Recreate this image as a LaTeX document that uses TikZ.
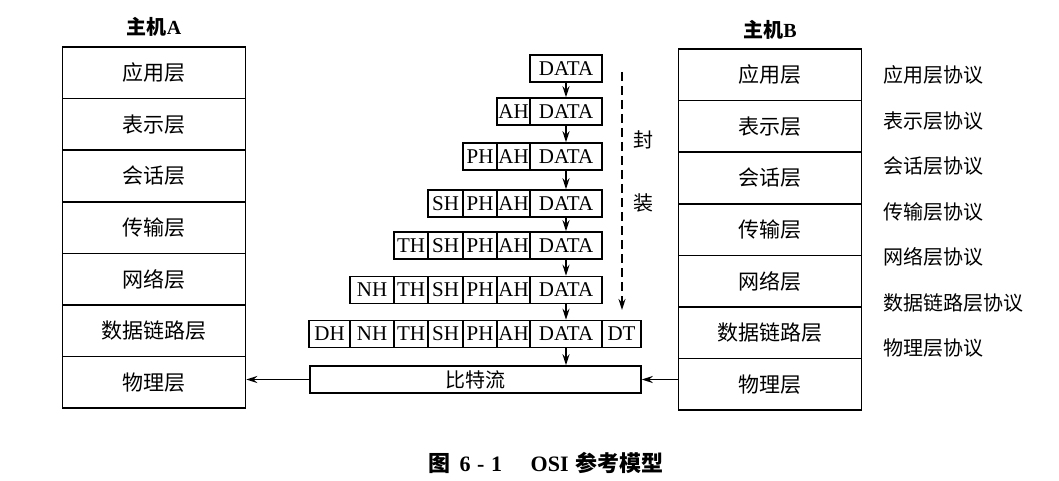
\documentclass[tikz,border=0pt]{standalone}
\usepackage{fontspec}
\setmainfont{Liberation Serif}
\newfontfamily\cjk{Noto Sans CJK SC}
\usetikzlibrary{arrows.meta}

\tikzset{
	layer/.style={draw, line width=1.5pt, minimum width=183pt, minimum height=51.6pt, inner sep=0pt, font=\cjk\fontsize{21}{25}\selectfont},
	cell/.style={draw, line width=1.5pt, minimum height=27pt, inner sep=0pt, font=\fontsize{21}{24}\selectfont},
	proto/.style={anchor=west, inner sep=0pt, font=\cjk\fontsize{20}{24}\selectfont},
	host/.style={inner sep=0pt, font=\bfseries\fontsize{20}{24}\selectfont},
	flow/.style={-{Stealth[length=11pt,width=7pt]}, line width=1.4pt},
}

\begin{document}
\begin{tikzpicture}[x=1pt,y=-1pt]
		\useasboundingbox (0,0) rectangle (1059,481);
		% host A and host B
		\node[host] (hostA) at (154,27) {{\cjk 主机}A};
		\node[host] (hostB) at (770,30) {{\cjk 主机}B};
		\foreach \t [count=\i] in {应用层,表示层,会话层,传输层,网络层,数据链路层,物理层}
		{
			\node[layer] (a\i) at (154,{21.2+51.6*\i}) {\t};
			\node[layer] (b\i) at (770,{23.2+51.6*\i}) {\t};
		}
		\foreach \t [count=\i] in {应用层协议,表示层协议,会话层协议,传输层协议,网络层协议,数据链路层协议,物理层协议}
			\node[proto] (p\i) at (883,{29.5+45.5*\i}) {\t};
		% packets, one column at a time
		\foreach \r/\y in {1/68.5,2/111.5,3/156.5,4/203.5,5/245.5,6/290,7/334}
			\node[cell, minimum width=72pt] (data\r) at (566,\y) {DATA};
		\foreach \r/\y in {2/111.5,3/156.5,4/203.5,5/245.5,6/290,7/334}
			\node[cell, minimum width=33pt] (ah\r) at (513.5,\y) {AH};
		\foreach \r/\y in {3/156.5,4/203.5,5/245.5,6/290,7/334}
			\node[cell, minimum width=34pt] (ph\r) at (480,\y) {PH};
		\foreach \r/\y in {4/203.5,5/245.5,6/290,7/334}
			\node[cell, minimum width=35pt] (sh\r) at (445.5,\y) {SH};
		\foreach \r/\y in {5/245.5,6/290,7/334}
			\node[cell, minimum width=34pt] (th\r) at (411,\y) {TH};
		\foreach \r/\y in {6/290,7/334}
			\node[cell, minimum width=44pt] (nh\r) at (372,\y) {NH};
		\node[cell, minimum width=41pt] (dh7) at (329.5,334) {DH};
		\node[cell, minimum width=39pt] (dt7) at (621.5,334) {DT};
		\node[cell, minimum width=331pt, font=\cjk\fontsize{20}{24}\selectfont] (bits) at (475.5,379.5) {比特流};
		% downward arrows
		\foreach \r [evaluate=\r as \n using int(\r+1)] in {1,...,6}
			\draw[flow] (data\r.south) -- (data\n.north);
		\draw[flow] (data7.south) -- (data7.south |- bits.north);
		\draw[flow] (bits.west) -- (bits.west -| a7.east);
		\draw[flow] (bits.east -| b7.west) -- (bits.east);
		% encapsulation
		\coordinate (encTop) at (622,72);
		\coordinate (encBot) at (622,310);
		\draw[flow, dash pattern=on 9pt off 5pt] (encTop) -- (encBot);
		\node[proto, anchor=center] (feng) at (643,140) {封};
		\node[proto, anchor=center] (zhuang) at (643,203) {装};
		% caption
		\node[host, font=\bfseries\fontsize{22}{26}\selectfont] (caption) at (546,463) {{\cjk 图}\hspace{0.4em}6\hspace{0.3em}-\hspace{0.3em}1\hspace{1.3em}OSI\hspace{0.3em}{\cjk 参考模型}};
\end{tikzpicture}
\end{document}
